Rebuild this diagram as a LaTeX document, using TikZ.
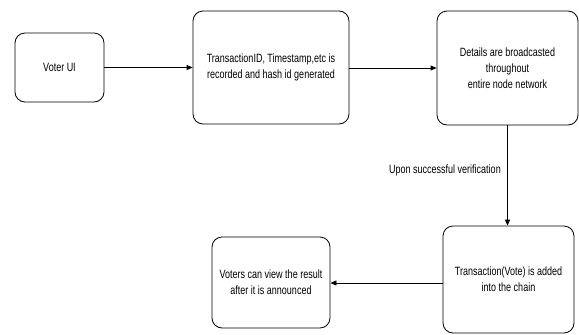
\documentclass[tikz,border=0pt]{standalone}
\usepackage{fontspec}
\setmainfont{Liberation Sans}[FakeStretch=0.75]
\usetikzlibrary{arrows.meta}
\begin{document}
\begin{tikzpicture}[x=1pt,y=-1pt,
  box/.style={draw, rounded corners=10pt, line width=0.8pt, align=center, inner sep=0pt,
    font=\fontsize{12}{16}\selectfont},
  conn/.style={-{Triangle[length=6pt,width=5pt]}, line width=0.8pt},
  lbl/.style={font=\fontsize{12}{14}\selectfont}]
\useasboundingbox (0,0) rectangle (579,335);
\node[box, minimum width=89pt, minimum height=69pt] (ui) at (59.5,67.5) {Voter UI};
\node[box, minimum width=156pt, minimum height=113pt] (tx) at (271,67.5) {TransactionID, Timestamp,etc is\\recorded and hash id generated};
\node[box, minimum width=141pt, minimum height=114pt] (bc) at (507.5,68) {Details are broadcasted\\throughout\\entire node network};
\node[box, minimum width=131pt, minimum height=107pt] (add) at (508.5,279.5) {Transaction(Vote) is added\\into the chain};
\node[box, minimum width=118pt, minimum height=91pt] (view) at (271,282.5) {Voters can view the result\\after it is announced};
\draw[conn] (ui.east) -- (ui.east -| tx.west);
\draw[conn] (tx.east |- 0,68) -- (bc.west |- 0,68);
\draw[conn] (bc.south) -- (bc.south |- add.north);
\draw[conn] (add.west |- 0,283) -- (view.east |- 0,283);
\node[lbl] (ver) at (445,170) {Upon successful verification};
\end{tikzpicture}
\end{document}
